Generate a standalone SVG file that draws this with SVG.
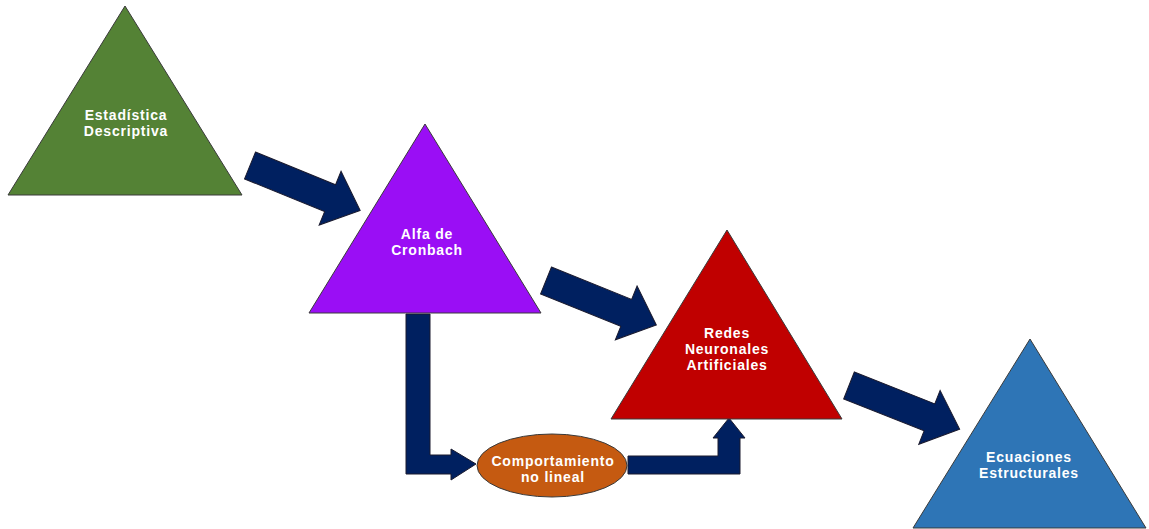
<svg xmlns="http://www.w3.org/2000/svg" width="1149" height="529" viewBox="0 0 1149 529">
<style>
.tri{stroke:#3a3a3a;stroke-width:1;stroke-linejoin:miter}
.arr{fill:#002060;stroke:#1a1a2e;stroke-width:1;stroke-linejoin:miter}
.lbl{font-family:"Liberation Sans",Arial,sans-serif;font-weight:bold;font-size:14px;fill:#ffffff;text-anchor:middle;letter-spacing:0.8px}
</style>
<defs>
<polygon id="bigArrow" points="0,-14.5 86.5,-14.5 86.5,-29 119,0 86.5,29 86.5,14.5 0,14.5"/>
</defs>
<rect width="1149" height="529" fill="#ffffff"/>
<g id="connectors">
<use href="#bigArrow" class="arr" transform="translate(250,165.5) rotate(22.2)"/>
<use href="#bigArrow" class="arr" transform="translate(546,280.5) rotate(22)"/>
<use href="#bigArrow" class="arr" transform="translate(849,385.5) rotate(21.6)"/>
<polygon class="arr" points="406,314 430,314 430,455 451,455 451,449 476,464 451,480 451,474 406,474"/>
<polygon class="arr" points="628,456 718,456 718,438 713,438 729,418 745,438 740,438 740,474 628,474"/>
</g>
<g id="estadistica">
<polygon class="tri" fill="#548235" points="125,6 242,195 8,195"/>
<text class="lbl" x="126" y="120">Estadística</text>
<text class="lbl" x="126" y="136">Descriptiva</text>
</g>
<g id="alfa">
<polygon class="tri" fill="#9A0EF5" points="425,124 541,313 309,313"/>
<text class="lbl" x="427" y="239">Alfa de</text>
<text class="lbl" x="427" y="255">Cronbach</text>
</g>
<g id="redes">
<polygon class="tri" fill="#C00000" points="727,230 842,419 611,419"/>
<text class="lbl" x="727" y="338">Redes</text>
<text class="lbl" x="727" y="354">Neuronales</text>
<text class="lbl" x="727" y="370">Artificiales</text>
</g>
<g id="ecuaciones">
<polygon class="tri" fill="#2E75B6" points="1030,339 1146,528 913,528"/>
<text class="lbl" x="1029" y="462">Ecuaciones</text>
<text class="lbl" x="1029" y="478">Estructurales</text>
</g>
<g id="comportamiento">
<ellipse cx="552" cy="465.5" rx="75" ry="31.5" fill="#C55A11" stroke="#3a3a3a" stroke-width="1"/>
<text class="lbl" x="553" y="466">Comportamiento</text>
<text class="lbl" x="553" y="482">no lineal</text>
</g>
</svg>
